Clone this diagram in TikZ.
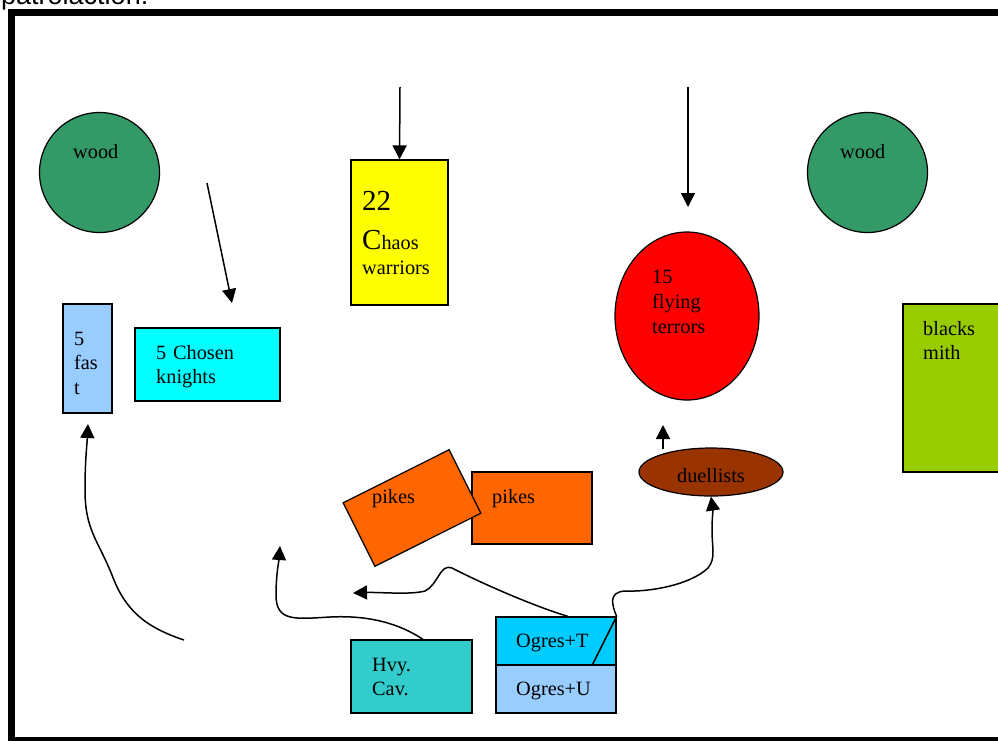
\documentclass[tikz,border=0pt]{standalone}
\usepackage{fontspec}
\setmainfont{Liberation Serif}
\newfontfamily\sansf{Liberation Sans}
\usetikzlibrary{arrows.meta,calc,shapes.geometric}
\definecolor{woodgreen}{HTML}{339966}
\definecolor{fastblue}{HTML}{99CCFF}
\definecolor{chosencyan}{HTML}{00FFFF}
\definecolor{chaosyellow}{HTML}{FFFF00}
\definecolor{flyred}{HTML}{FF0000}
\definecolor{smithgreen}{HTML}{99CC00}
\definecolor{pikeorange}{HTML}{FF6600}
\definecolor{cavteal}{HTML}{33CCCC}
\definecolor{ogreT}{HTML}{00CCFF}
\definecolor{ogreU}{HTML}{99CCFF}
\definecolor{duelbrown}{HTML}{993300}
\begin{document}
\begin{tikzpicture}[x=1pt,y=-1pt,
  shp/.style={draw=black,line width=1.2pt,inner sep=0pt},
  box/.style={shp,rectangle},
  blob/.style={shp,ellipse},
  lbl/.style={font=\fontsize{20.3}{24.5}\selectfont,inner sep=0pt,anchor=base west,text width=160pt,align=left},
  arr/.style={line width=1.5pt,-{Triangle[length=14pt,width=14pt]}},
  wire/.style={line width=1.5pt}]
\useasboundingbox (0,0) rectangle (998,740);
% frame and page text
\draw[line width=7pt] (11.5,12.5) rectangle (1010,740);
\node[font=\sansf\fontsize{27}{30}\selectfont,anchor=base west,inner sep=0pt] (pat) at (1,4) {patrolaction.};
% woods
\node[shp,circle,fill=woodgreen,minimum size=120pt] (woodL) at (99.5,172.5) {};
\node[lbl] (woodLt) at (73,158) {wood};
\node[shp,circle,fill=woodgreen,minimum size=120pt] (woodR) at (867.5,172.5) {};
\node[lbl] (woodRt) at (840,158) {wood};
% units
\node[box,fill=fastblue,minimum width=49pt,minimum height=109pt] (fast) at (87.5,358.5) {};
\node[lbl] (fastt) at (74,345) {5\\fas\\t};
\node[box,fill=chosencyan,minimum width=145pt,minimum height=73pt] (chosen) at (207.5,364.5) {};
\node[lbl] (chosent) at (156,359) {5 Chosen\\knights};
\node[box,fill=chaosyellow,minimum width=97pt,minimum height=145pt] (chaos) at (399.5,232.5) {};
\node[lbl,font=\fontsize{29}{30}\selectfont] (chaos1) at (362,210) {22};
\node[lbl] (chaos2) at (362,249) {{\fontsize{29}{30}\selectfont C}haos};
\node[lbl] (chaos3) at (362,274) {warriors};
\node[blob,fill=flyred,minimum width=144pt,minimum height=168pt] (fly) at (687,316) {};
\node[lbl,font=\fontsize{20.3}{25}\selectfont] (flyt) at (652,283) {15\\flying\\terrors};
\node[box,fill=smithgreen,minimum width=107pt,minimum height=168pt] (smith) at (956.5,388) {};
\node[lbl] (smitht) at (923,335) {blacks\\mith};
\node[box,fill=pikeorange,minimum width=120pt,minimum height=72pt] (pikesB) at (532,508) {};
\node[lbl] (pikesBt) at (492,503) {pikes};
\node[box,fill=pikeorange,minimum width=118.5pt,minimum height=71pt,rotate=26.6] (pikesA) at (412,508) {};
\node[lbl] (pikesAt) at (372,503) {pikes};
\node[blob,fill=duelbrown,minimum width=144pt,minimum height=48pt] (duel) at (711,472) {};
\node[font=\fontsize{20.3}{24.5}\selectfont,inner sep=0pt,anchor=base] (duelt) at (711,482) {duellists};
\node[box,fill=cavteal,minimum width=121pt,minimum height=73pt] (cav) at (411.5,676.5) {};
\node[lbl] (cavt) at (372,671) {Hvy.\\Cav.};
\node[box,fill=ogreT,minimum width=120pt,minimum height=48pt] (ogT) at (556,641) {};
\node[lbl] (ogTt) at (516,647) {Ogres+T};
\node[box,fill=ogreU,minimum width=120pt,minimum height=48pt] (ogU) at (556,689) {};
\node[lbl] (ogUt) at (516,695) {Ogres+U};
% free ends
\coordinate (a1s) at (400,87);
\coordinate (a2s) at (688,87);
\coordinate (a2e) at (688,207);
\coordinate (a3s) at (207,183);
\coordinate (a3e) at (232,303);
\coordinate (a4s) at (184,640);
\coordinate (a4e) at (88,424);
\coordinate (a5e) at (280,546);
\coordinate (a6e) at (353,593);
\coordinate (a7s) at (663,449);
\coordinate (a7e) at (663,425);
% connectors
\draw[arr] (a1s) -- (chaos.north);
\draw[arr] (a2s) -- (a2e);
\draw[arr] (a3s) -- (a3e);
\draw[arr] (a4s) .. controls (145,627) and (125,610) .. (112,575)
  .. controls (98,540) and (85,530) .. (85,490)
  .. controls (85,460) and (87,445) .. (a4e);
\draw[arr] ($(cav.north)+(11.5,0)$) .. controls (400,624) and (370,615) .. (330,617)
  .. controls (295,619) and (276,622) .. (276,595)
  .. controls (276,575) and (279,560) .. (a5e);
\draw[arr] ($(ogT.north)+(12,0)$) .. controls (530,605) and (475,580) .. (452,568)
  .. controls (440,563) and (438,585) .. (425,591)
  .. controls (410,595) and (380,592) .. (a6e);
\draw[arr] ($(ogT.south)+(36,0)$) -- (ogT.north east)
  .. controls (612,605) and (608,592) .. (625,591)
  .. controls (650,592) and (690,585) .. (708,568)
  .. controls (716,558) and (712,548) .. (712,530)
  .. controls (712,520) and (713,510) .. (duel.south);
\draw[arr] (a7s) -- (a7e);
\end{tikzpicture}
\end{document}
